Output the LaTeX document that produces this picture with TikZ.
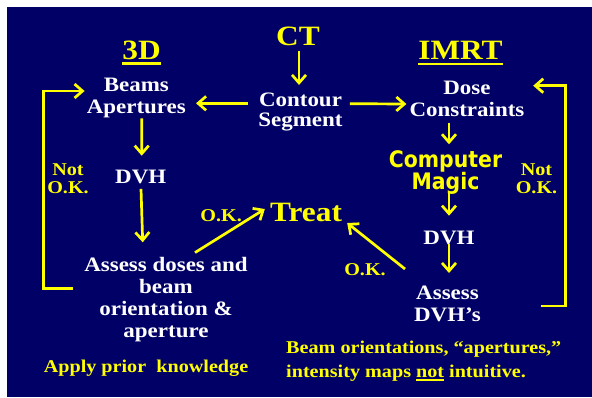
\documentclass[tikz,border=0pt]{standalone}
\usepackage{fontspec}
\setmainfont{Liberation Serif}[FakeStretch=1.12]
\newfontfamily\magicfont{DejaVu Sans}[FakeStretch=0.9]
\usetikzlibrary{arrows.meta,calc}
\definecolor{slide}{RGB}{0,0,102}
\definecolor{gold}{RGB}{255,255,0}
% centred and flush-left stacks whose baseline is that of the first line
\newcommand\centred[1]{\vtop{\halign{\hfil##\hfil\cr#1\crcr}}}
\newcommand\flushed[1]{\vtop{\halign{##\hfil\cr#1\crcr}}}
% underline with a given depth and thickness
\newcommand\ruled[3]{\setbox0\hbox{#3}\rlap{\rule[#1]{\wd0}{#2}}\box0\relax}
\begin{document}
\begin{tikzpicture}[x=1pt,y=-1pt,
  wtext/.style={text=white,inner sep=0pt,anchor=base,
    font=\bfseries\fontsize{20.5}{22}\selectfont},
  ytext/.style={text=gold,inner sep=0pt,anchor=base,
    font=\bfseries\fontsize{18}{18.3}\selectfont},
  head/.style={text=gold,inner sep=0pt,anchor=base,
    font=\bfseries\fontsize{28}{30}\selectfont},
  magic/.style={text=gold,inner sep=0pt,anchor=base,
    font=\magicfont\bfseries\fontsize{22.7}{22}\selectfont},
  arr/.style={draw=gold,line width=2.7pt,
    -{Straight Barb[length=8pt,width=14pt]}}]
\useasboundingbox (0,0) rectangle (592,397);
\fill[white] (0,0) rectangle (592,397);
\fill[slide] (7,7) rectangle (592,397);

% headings
\node[head] (ct) at (298,45.7) {CT};
\node[head] (three) at (141.5,59) {\ruled{-6pt}{2.7pt}{3D}};
\node[head] (imrt) at (460.5,59.3) {\ruled{-6pt}{2.8pt}{IMRT}};

% planning steps
\node[wtext] (beams) at (136.3,91.7) {\centred{Beams\cr Apertures}};
\node[wtext,font=\bfseries\fontsize{20.5}{20}\selectfont] (contour)
  at (300.5,106.7) {\centred{Contour\cr Segment}};
\node[wtext] (dose) at (467,94.3) {\centred{Dose\cr Constraints}};
\node[wtext] (dvhl) at (140.7,183.3) {DVH};
\node[wtext] (assessl) at (166,271.7)
  {\centred{Assess doses and\cr beam\cr orientation \&\cr aperture}};
\node[magic] (magic) at (445.5,167.3) {\centred{Computer\cr Magic}};
\node[wtext] (dvhr) at (449,244.3) {DVH};
\node[wtext] (assessr) at (447.5,299.3) {\centred{Assess\cr DVH’s}};
\node[head] (treat) at (306,221) {Treat};

% yellow labels
\node[ytext] (notl) at (68,175) {\centred{Not\cr O.K.}};
\node[ytext] (notr) at (536.5,175) {\centred{Not\cr O.K.}};
\node[ytext] (okl) at (221.2,221) {O.K.};
\node[ytext] (okr) at (365,275) {O.K.};
\node[ytext] (apply) at (146,372) {Apply prior\ \ knowledge};
\node[ytext,anchor=base west,font=\bfseries\fontsize{18}{24}\selectfont]
  (remark) at (286,353.3)
  {\flushed{Beam orientations, “apertures,”\cr
            intensity maps \ruled{-3.2pt}{2pt}{not} intuitive.}};

% connectors
\draw[arr] ($(ct.south)+(1,5.3)$) -- ($(ct.south |- contour.north)+(1,-8)$);
\draw[arr] ($(contour.base west)+(-10,-3.4)$) -- ($(beams.base east)+(10,11.6)$);
\draw[arr] ($(contour.base east)+(7,-3)$) -- ($(dose.base west)+(-3,9.7)$);
\draw[arr] ($(beams.south)+(5.5,0)$) -- ($(dvhl.north)+(1,-14)$);
\draw[arr] ($(dvhl.south)+(0.3,5)$) -- ($(assessl.north)+(-23.3,-15)$);
\draw[arr] ($(dose.south)+(-18,6)$) -- ($(magic.north)+(3.5,-6)$);
\draw[arr] ($(magic.south)+(3.5,-1)$) -- ($(dvhr.north)+(0,-15)$);
\draw[arr] ($(dvhr.south)+(0,-1)$) -- ($(assessr.north)+(1.5,-12.6)$);
\draw[arr] ($(assessl.north)+(29,-4.7)$) -- ($(treat.base west)+(-5,-12)$);
\draw[arr] ($(assessr.north)+(-42.5,-16.6)$) -- ($(treat.base east)+(5,2)$);
% "not O.K." loops back to the first step
\draw[arr] ($(assessl.base west)+(-11.6,16.6)$) -- ++(-28.7,0)
  |- ($(beams.base west)+(-2,-0.7)$);
\draw[arr] ($(assessr.base east)+(60.4,6.7)$) -- ++(24,0)
  |- ($(dose.base east)+(8.6,-8.6)$);
\end{tikzpicture}
\end{document}
